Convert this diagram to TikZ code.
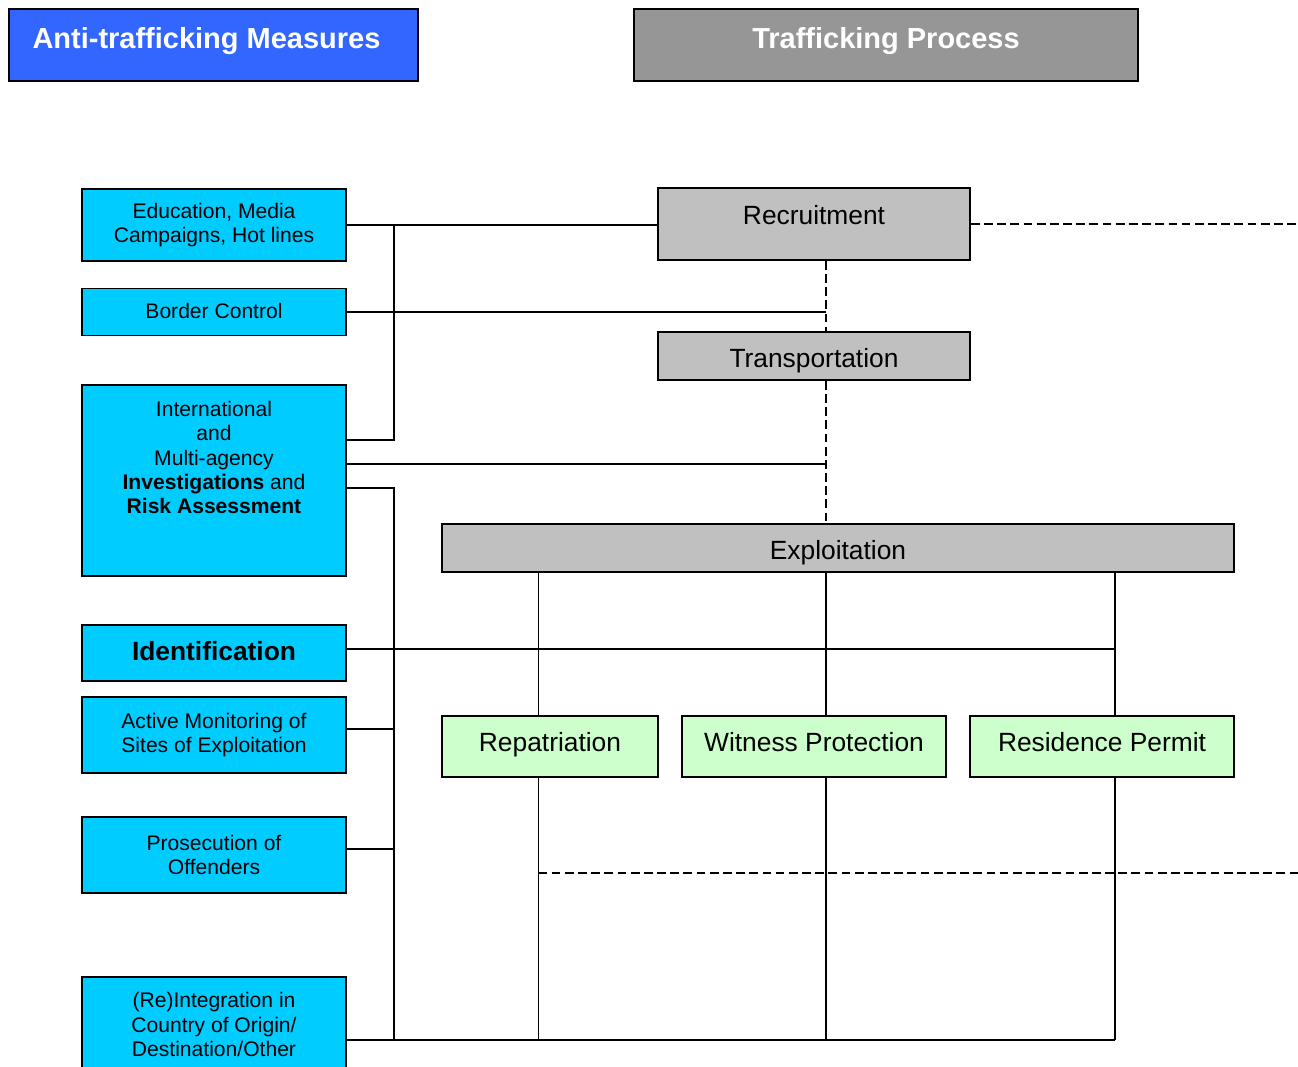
\documentclass[tikz,border=0pt]{standalone}
\usepackage{fontspec}
\setmainfont{Liberation Sans}
\usepackage{tikz}
\usetikzlibrary{calc}
\definecolor{bannerblue}{HTML}{3366FF}
\definecolor{bannergray}{HTML}{969696}
\definecolor{measurecyan}{HTML}{00CCFF}
\definecolor{stagegray}{HTML}{C0C0C0}
\definecolor{supportgreen}{HTML}{CCFFCC}
\tikzstyle{banner} = [rectangle, minimum height=1.44cm, inner ysep=0pt, draw=black, line width=1.1pt, text=white, font=\fontsize{16.5}{20}\selectfont\bfseries, text height=0.35cm, text depth=0.2cm]
\tikzstyle{measure} = [rectangle, minimum width=5.28cm, inner ysep=0pt, draw=black, line width=1pt, fill=measurecyan, align=center, font=\fontsize{12}{13.9}\selectfont]
\tikzstyle{stage} = [rectangle, inner ysep=0pt, draw=black, line width=1pt, fill=stagegray, font=\fontsize{15}{18}\selectfont, text depth=0.2cm]
\tikzstyle{support} = [rectangle, minimum height=1.22cm, inner ysep=0pt, draw=black, line width=1pt, fill=supportgreen, font=\fontsize{15}{18}\selectfont, text height=0.41cm, text depth=0.2cm]
\tikzstyle{link} = [line width=1pt]
\tikzstyle{flow} = [line width=1pt, dash pattern=on 5pt off 2.5pt]

\begin{document}
\begin{tikzpicture}[x=0.02cm, y=-0.02cm]
  \useasboundingbox (0,0) rectangle (1298,1067);
  \clip (0,0) rectangle (1298,1067);
  \node (anti) [banner, fill=bannerblue, minimum width=8.18cm] at (213.5,45) {Anti-trafficking Measures\kern0.28cm};
  \node (proc) [banner, fill=bannergray, minimum width=10.08cm] at (886,45) {Trafficking Process};

  \node (edu) [measure, minimum height=1.44cm] at (214,225) {Education, Media\\Campaigns, Hot lines};
  \node (bord) [measure, minimum height=0.94cm, text height=0.48cm, text depth=0.2cm] at (214,312) {Border Control};
  \node (intl) [measure, minimum height=3.82cm] at (214,480.5) {\parbox[c][3.18cm][t]{5cm}{\centering International\\and\\Multi-agency\\\textbf{Investigations} and\\\textbf{Risk Assessment}}};
  \node (ident) [measure, minimum height=1.12cm, font=\fontsize{15}{18}\selectfont\bfseries, text height=0.48cm, text depth=0.2cm] at (214,653) {Identification};
  \node (monit) [measure, minimum height=1.52cm] at (214,735) {Active Monitoring of\\Sites of Exploitation};
  \node (prosec) [measure, minimum height=1.52cm] at (214,855) {Prosecution of\\Offenders};
  \node (reint) [measure, minimum height=1.9cm] at (214,1024.5) {(Re)Integration in\\Country of Origin/\\Destination/Other};

  \node (recr) [stage, minimum width=6.24cm, minimum height=1.44cm, text height=0.21cm] at (814,224) {Recruitment};
  \node (transp) [stage, minimum width=6.24cm, minimum height=0.96cm, text height=0.67cm] at (814,356) {Transportation};
  \node (exploit) [stage, minimum width=15.84cm, minimum height=0.96cm, text height=0.67cm] at (838,548) {Exploitation};

  \node (repat) [support, minimum width=4.32cm] at (550,746.5) {Repatriation};
  \node (witness) [support, minimum width=5.28cm] at (814,746.5) {Witness Protection};
  \node (resid) [support, minimum width=5.28cm] at (1102,746.5) {Residence Permit};

  \coordinate (busL) at (394,0);
  \coordinate (trunk) at (826,0);
  \coordinate (dropA) at (538.5,0);
  \coordinate (dropC) at (1115,0);
  \coordinate (rim) at (1298,0);
  \coordinate (dashB) at (0,873);
  \coordinate (intlA) at ($(intl.north east)+(0,56)$);
  \coordinate (intlB) at ($(intl.north east)+(0,80)$);
  \coordinate (intlC) at ($(intl.north east)+(0,104)$);
  \coordinate (identR) at ($(ident.east)+(0,-4)$);
  \coordinate (monitR) at ($(monit.east)+(0,-6)$);
  \coordinate (prosecR) at ($(prosec.east)+(0,-6)$);
  \coordinate (reintR) at ($(reint.north east)+(0,64)$);

  \draw [link] (edu.east) -- (edu.east -| recr.west);
  \draw [link] (edu.east -| busL) |- (intlA);
  \draw [link] (bord.east) -- (bord.east -| trunk);
  \draw [link] (intlB) -- (intlB -| trunk);
  \draw [link] (intlC) -| (reintR -| busL);
  \draw [link] (identR) -- (identR -| dropC);
  \draw [link] (monitR) -- (monitR -| busL);
  \draw [link] (prosecR) -- (prosecR -| busL);
  \draw [link] (reintR) -- (reintR -| dropC);
  \draw [flow] (recr.south -| trunk) -- (transp.north -| trunk);
  \draw [flow] (transp.south -| trunk) -- (exploit.north -| trunk);
  \draw [flow] (recr.east) -- (recr.east -| rim);
  \draw [link] (exploit.south -| dropA) -- (repat.north -| dropA);
  \draw [link] (exploit.south -| trunk) -- (witness.north -| trunk);
  \draw [link] (exploit.south -| dropC) -- (resid.north -| dropC);
  \draw [link] (repat.south -| dropA) -- (reintR -| dropA);
  \draw [link] (witness.south -| trunk) -- (reintR -| trunk);
  \draw [link] (resid.south -| dropC) -- (reintR -| dropC);
  \draw [flow] (dashB -| dropA) -- (dashB -| rim);
\end{tikzpicture}
\end{document}
